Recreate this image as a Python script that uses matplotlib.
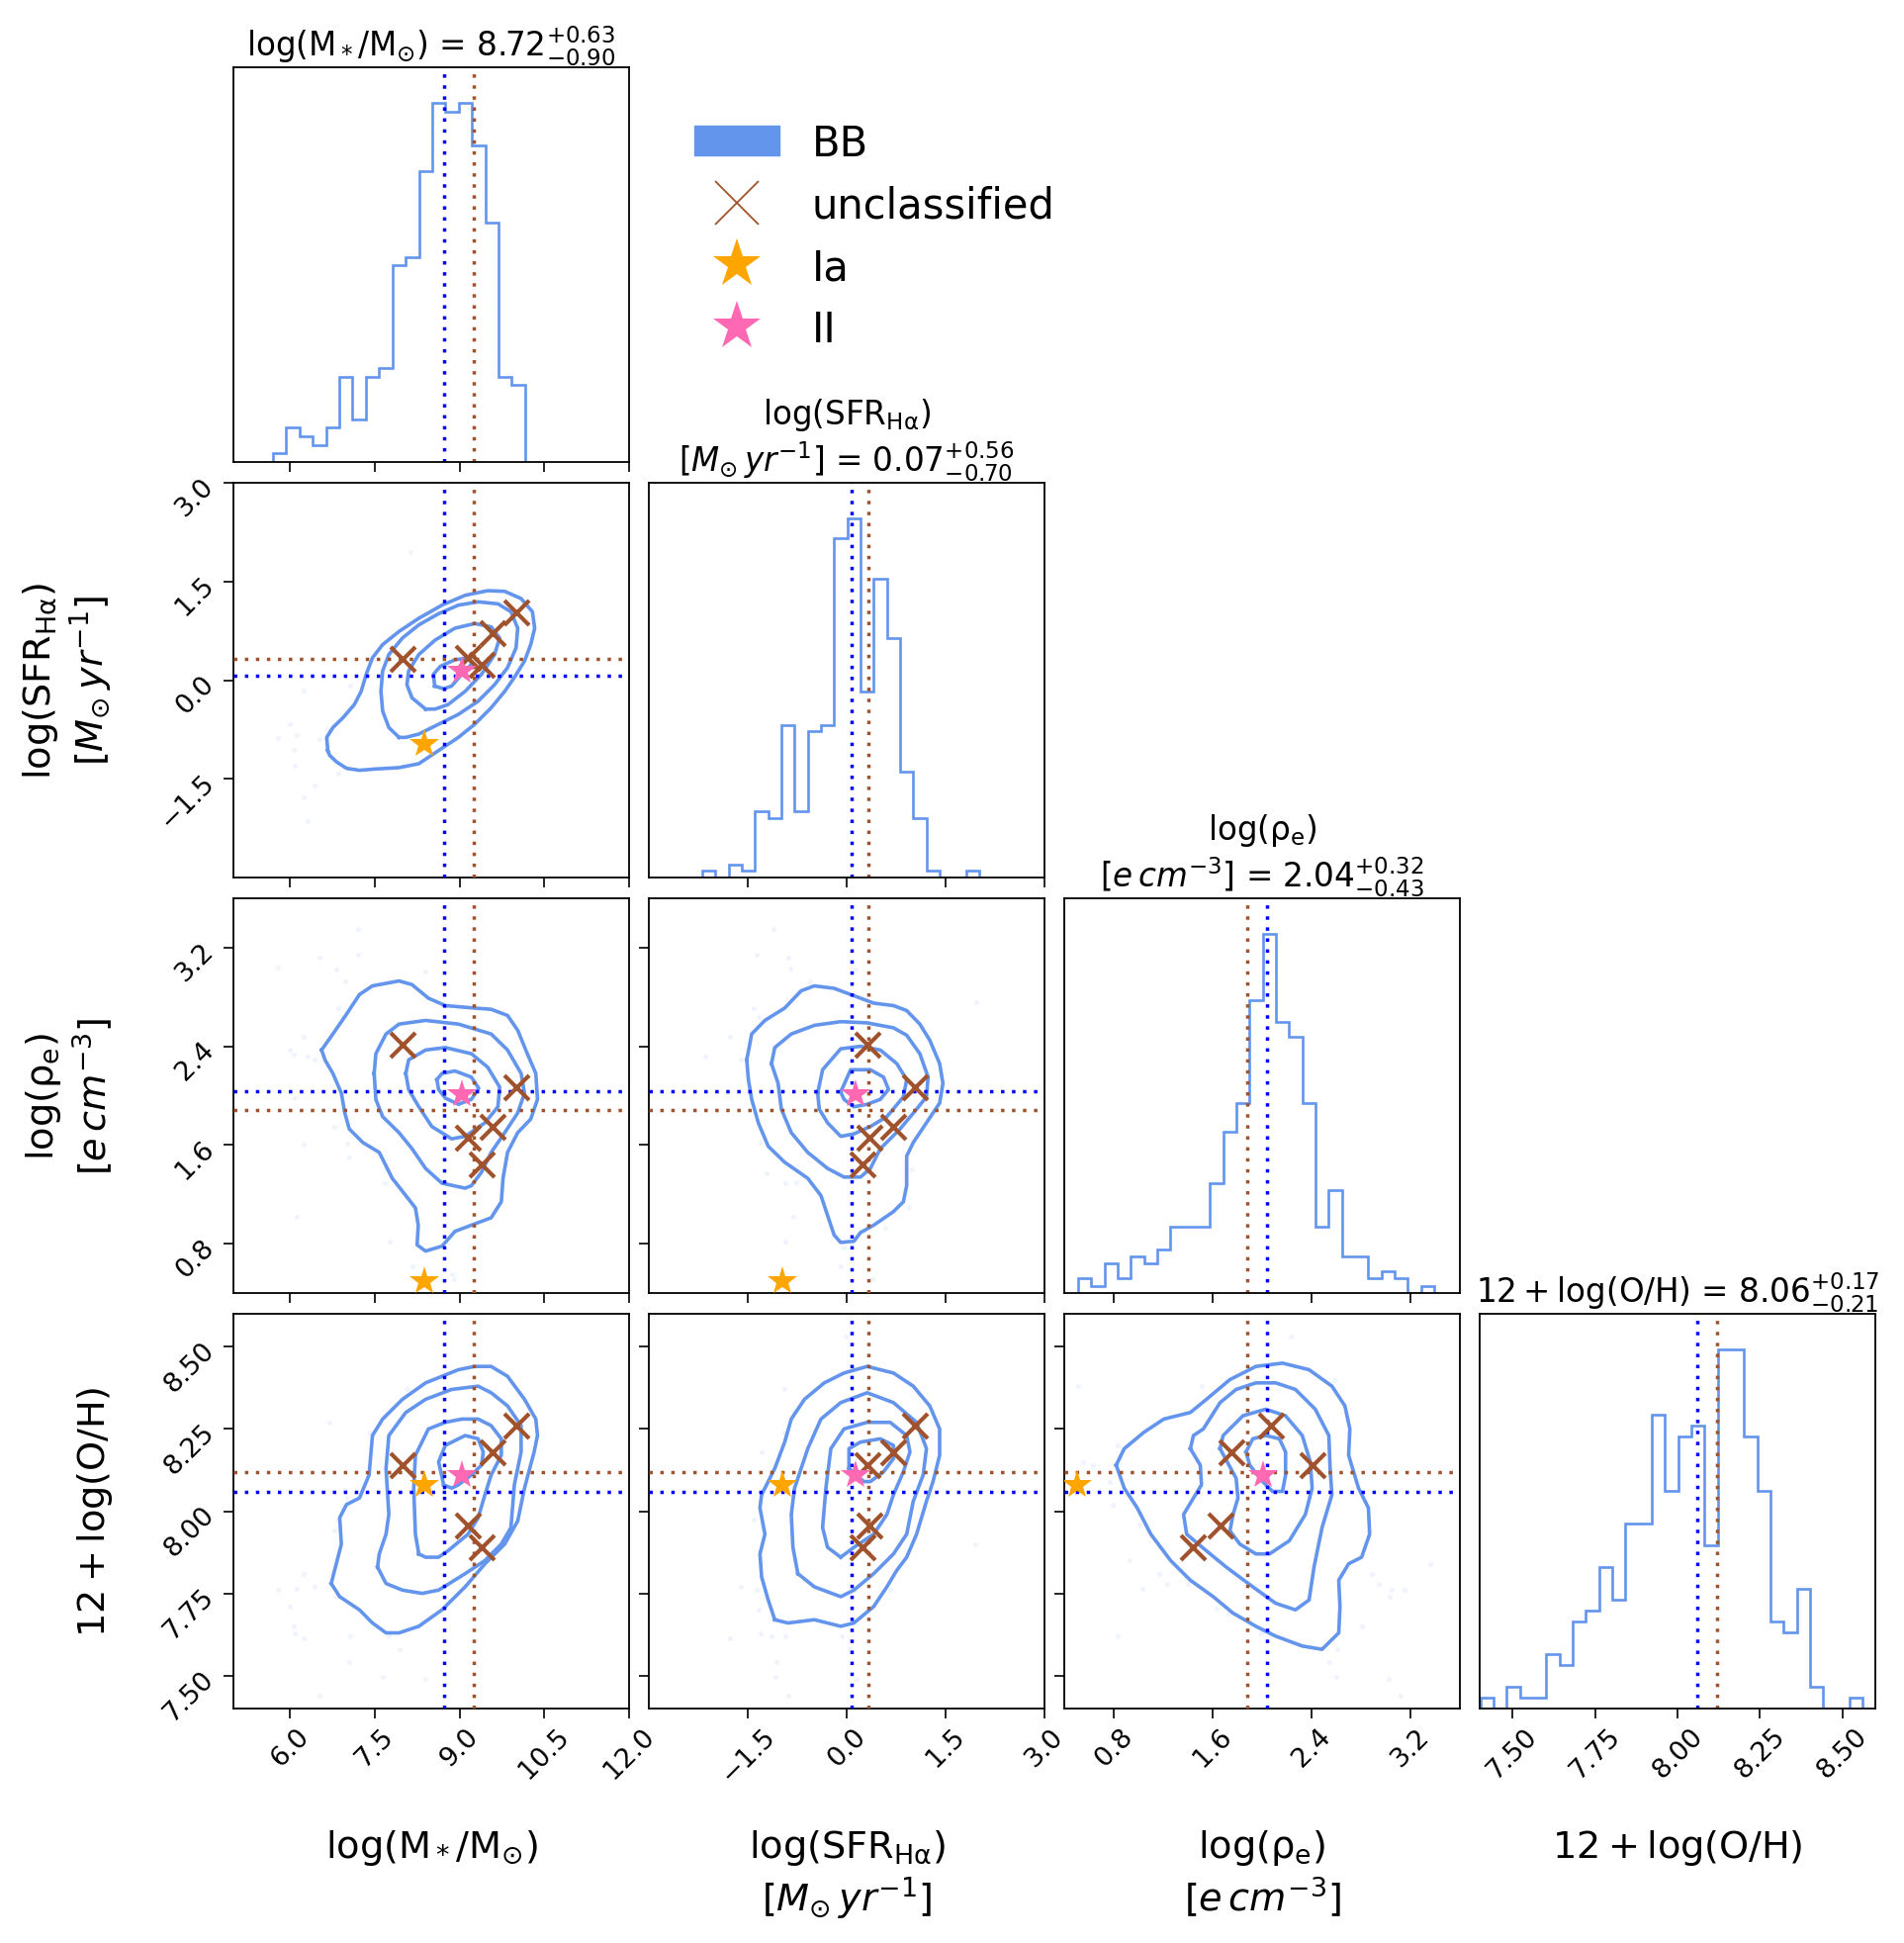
import numpy as np
import matplotlib
matplotlib.use("Agg")
import matplotlib.pyplot as plt
from matplotlib.lines import Line2D
from matplotlib.patches import Patch

plt.rcParams['font.family'] = ['DejaVu Sans']
plt.rcParams['mathtext.fontset'] = 'dejavusans'

# ---------------- data ----------------
labels = [r"$\log(\mathrm{M_*/M_{\odot}})$",
          "$\\log(\\mathrm{SFR_{H\\alpha}})$\n$[M_{\\odot}\\,yr^{-1}]$",
          "$\\log(\\mathrm{\\rho_e})$\n$[e\\,cm^{-3}]$",
          r"$12 + \log(\mathrm{O/H})$"]

ranges = [(5.0, 12.0), (-3.0, 3.0), (0.4, 3.6), (7.4, 8.6)]
ticks = [[6.0, 7.5, 9.0, 10.5, 12.0],
         [-1.5, 0.0, 1.5, 3.0],
         [0.8, 1.6, 2.4, 3.2],
         [7.50, 7.75, 8.00, 8.25, 8.50]]

# BB sample: median and 16/84 errors
bb_median = [8.72, 0.07, 2.04, 8.06]
bb_err_up = [0.63, 0.56, 0.32, 0.17]
bb_err_lo = [0.90, 0.70, 0.43, 0.21]
# SN-host reference values (brown dotted lines)
sn_ref = [9.25, 0.33, 1.88, 8.12]

# histograms (counts per bin, first/last bin edge)
mass_counts = [1, 4, 3, 2, 4, 10, 5, 10, 11, 23, 24, 34, 42, 41, 42, 37, 28, 10, 9]
mass_edges_span = (5.70, 10.16)
sfr_counts = [1, 0, 2, 1, 10, 9, 23, 10, 22, 23, 51, 54, 28, 45, 36, 16, 9, 1, 0, 0, 1]
sfr_edges_span = (-2.19, 2.01)
rho_counts = [2, 1, 4, 2, 5, 4, 6, 9, 9, 9, 15, 22, 26, 40, 49, 37, 35, 26, 9, 14,
              5, 5, 2, 3, 2, 0, 1]
rho_edges_span = (0.512, 3.392)
oh_counts = [1, 0, 2, 1, 1, 5, 4, 8, 9, 13, 10, 17, 17, 27, 20, 25, 26, 15, 33, 33,
             25, 20, 8, 7, 11, 2, 0, 0, 1]
oh_edges_span = (7.402, 8.562)

# supernova hosts
unc_mass = [7.99, 9.14, 9.40, 9.58, 10.01]
unc_sfr = [0.32, 0.34, 0.24, 0.71, 1.03]
unc_rho = [2.41, 1.66, 1.44, 1.75, 2.07]
unc_oh = [8.14, 7.955, 7.89, 8.18, 8.26]
ia_vals = [8.38, -0.97, 0.50, 8.08]
ii_vals = [9.05, 0.14, 2.01, 8.11]

# density contours (0.5,1,1.5,2 sigma)
cont_mass_sfr = [
    [(8.56, -0.09), (8.54, 0.09), (8.66, 0.21), (8.92, 0.31), (9.18, 0.34), (9.21, 0.24),
     (9.04, 0.09), (8.86, -0.09), (8.72, -0.13)],
    [(8.40, -0.44), (8.16, -0.27), (8.07, -0.07), (8.10, 0.14), (8.28, 0.39), (8.57, 0.61),
     (8.92, 0.79), (9.27, 0.86), (9.56, 0.81), (9.71, 0.64), (9.62, 0.39), (9.39, 0.09),
     (9.10, -0.17), (8.80, -0.37), (8.57, -0.44)],
    [(7.93, -0.87), (7.75, -0.72), (7.64, -0.47), (7.61, -0.17), (7.64, 0.14), (7.75, 0.39),
     (7.99, 0.64), (8.28, 0.84), (8.63, 1.01), (8.98, 1.14), (9.33, 1.19), (9.68, 1.16),
     (9.91, 1.04), (10.03, 0.79), (10.00, 0.49), (9.85, 0.19), (9.62, -0.07), (9.33, -0.32),
     (8.98, -0.52), (8.63, -0.67), (8.28, -0.82), (8.05, -0.87)],
    [(6.67, -1.07), (6.65, -0.87), (6.76, -0.72), (6.94, -0.57), (7.14, -0.37), (7.26, -0.17),
     (7.35, 0.09), (7.46, 0.34), (7.64, 0.54), (7.93, 0.74), (8.28, 0.94), (8.69, 1.14),
     (9.10, 1.29), (9.50, 1.36), (9.80, 1.35), (10.09, 1.24), (10.29, 1.04), (10.33, 0.79),
     (10.26, 0.54), (10.15, 0.29), (9.97, 0.04), (9.80, -0.17), (9.56, -0.42), (9.27, -0.67),
     (8.98, -0.87), (8.63, -1.07), (8.28, -1.27), (7.93, -1.33), (7.52, -1.35), (7.23, -1.37),
     (7.00, -1.34), (6.82, -1.24), (6.70, -1.14)],
]
cont_mass_rho = [
    [(8.60, 2.13), (8.69, 2.18), (8.92, 2.20), (9.21, 2.15), (9.34, 2.06), (9.21, 1.97),
     (8.98, 1.93), (8.75, 1.98), (8.63, 2.05)],
    [(8.05, 2.18), (8.10, 2.29), (8.40, 2.37), (8.75, 2.39), (9.21, 2.34), (9.50, 2.23),
     (9.71, 2.07), (9.68, 1.91), (9.45, 1.78), (9.10, 1.67), (8.86, 1.65), (8.51, 1.75),
     (8.28, 1.91), (8.10, 2.05)],
    [(7.49, 2.18), (7.52, 2.34), (7.70, 2.50), (7.93, 2.58), (8.40, 2.61), (8.98, 2.58),
     (9.56, 2.50), (9.85, 2.37), (10.09, 2.18), (10.15, 2.02), (10.03, 1.86), (9.80, 1.70),
     (9.56, 1.54), (9.39, 1.38), (9.21, 1.27), (9.10, 1.25), (8.69, 1.29), (8.40, 1.41),
     (8.16, 1.57), (7.93, 1.70), (7.64, 1.83), (7.52, 1.97)],
    [(6.56, 2.37), (6.76, 2.50), (7.00, 2.66), (7.23, 2.82), (7.46, 2.89), (7.93, 2.93),
     (8.16, 2.90), (8.45, 2.79), (8.75, 2.73), (9.27, 2.71), (9.56, 2.70), (9.85, 2.65),
     (10.03, 2.53), (10.20, 2.34), (10.35, 2.18), (10.38, 1.97), (10.26, 1.81), (10.03, 1.70),
     (9.85, 1.54), (9.77, 1.33), (9.74, 1.14), (9.56, 1.01), (9.21, 0.95), (8.92, 0.90),
     (8.69, 0.78), (8.40, 0.74), (8.25, 0.79), (8.27, 0.95), (8.22, 1.09), (8.05, 1.19),
     (7.81, 1.33), (7.58, 1.54), (7.29, 1.62), (7.05, 1.73), (6.97, 1.86), (6.91, 2.02),
     (6.76, 2.18), (6.62, 2.29)],
]
cont_mass_oh = [
    [(8.72, 8.08), (8.63, 8.15), (8.75, 8.20), (9.10, 8.23), (9.33, 8.22), (9.42, 8.18),
     (9.39, 8.14), (9.21, 8.11), (8.98, 8.08), (8.86, 8.07)],
    [(8.28, 7.87), (8.22, 7.93), (8.19, 8.07), (8.22, 8.17), (8.45, 8.25), (8.75, 8.27),
     (9.04, 8.28), (9.33, 8.28), (9.56, 8.26), (9.74, 8.22), (9.74, 8.17), (9.56, 8.11),
     (9.45, 8.05), (9.33, 7.98), (9.15, 7.93), (8.80, 7.88), (8.63, 7.86), (8.40, 7.86)],
    [(7.55, 7.83), (7.58, 7.87), (7.70, 7.93), (7.75, 7.99), (7.70, 8.13), (7.75, 8.23),
     (8.05, 8.30), (8.40, 8.34), (8.86, 8.37), (9.33, 8.38), (9.56, 8.36), (9.85, 8.32),
     (10.09, 8.26), (10.09, 8.18), (9.97, 8.08), (9.91, 7.95), (9.74, 7.90), (9.45, 7.85),
     (9.10, 7.81), (8.63, 7.76), (8.34, 7.75), (7.99, 7.76), (7.70, 7.78)],
    [(6.73, 7.78), (6.91, 7.90), (6.88, 7.98), (7.00, 8.02), (7.23, 8.04), (7.40, 8.11),
     (7.46, 8.23), (7.64, 8.28), (7.99, 8.34), (8.40, 8.39), (8.98, 8.43), (9.27, 8.44),
     (9.56, 8.44), (9.85, 8.41), (10.15, 8.34), (10.35, 8.28), (10.38, 8.23), (10.32, 8.18),
     (10.15, 8.07), (10.03, 7.97), (9.80, 7.90), (9.45, 7.84), (9.10, 7.77), (8.69, 7.70),
     (8.28, 7.65), (7.93, 7.63), (7.70, 7.63), (7.46, 7.66), (7.23, 7.70), (6.88, 7.74)],
]
cont_sfr_rho = [
    [(-0.09, 2.03), (0.06, 2.21), (0.36, 2.21), (0.56, 2.15), (0.635, 2.05), (0.51, 1.97),
     (0.31, 1.93), (0.11, 1.91), (-0.04, 1.97)],
    [(-0.44, 2.02), (-0.365, 2.21), (-0.09, 2.38), (0.21, 2.40), (0.51, 2.37), (0.76, 2.26),
     (0.91, 2.13), (0.86, 1.99), (0.61, 1.83), (0.36, 1.75), (0.11, 1.69), (-0.09, 1.67),
     (-0.29, 1.78), (-0.415, 1.89)],
    [(-1.14, 2.26), (-1.09, 2.39), (-0.84, 2.50), (-0.49, 2.57), (-0.09, 2.60), (0.31, 2.59),
     (0.71, 2.55), (0.91, 2.49), (1.11, 2.34), (1.235, 2.15), (1.21, 1.99), (1.06, 1.89),
     (0.81, 1.73), (0.51, 1.57), (0.36, 1.41), (0.21, 1.34), (-0.04, 1.34), (-0.29, 1.41),
     (-0.59, 1.54), (-0.84, 1.70), (-0.99, 1.89), (-1.04, 2.10)],
    [(-1.515, 2.29), (-1.44, 2.50), (-1.24, 2.61), (-0.94, 2.71), (-0.69, 2.85), (-0.49, 2.89),
     (-0.19, 2.87), (0.11, 2.81), (0.41, 2.75), (0.71, 2.73), (0.91, 2.69), (1.11, 2.58),
     (1.26, 2.45), (1.41, 2.26), (1.46, 2.10), (1.41, 1.94), (1.21, 1.78), (1.01, 1.62),
     (0.91, 1.51), (0.91, 1.27), (0.86, 1.14), (0.71, 1.06), (0.41, 0.95), (0.21, 0.89),
     (0.11, 0.82), (-0.09, 0.81), (-0.19, 0.87), (-0.29, 1.03), (-0.39, 1.19), (-0.59, 1.33),
     (-0.94, 1.46), (-1.19, 1.59), (-1.34, 1.78), (-1.44, 1.97), (-1.49, 2.13)],
]
cont_sfr_oh = [
    [(0.035, 8.13), (0.035, 8.19), (0.21, 8.21), (0.51, 8.22), (0.71, 8.20), (0.71, 8.16),
     (0.56, 8.12), (0.36, 8.09), (0.26, 8.09)],
    [(-0.09, 7.86), (-0.29, 7.89), (-0.365, 7.95), (-0.315, 8.07), (-0.24, 8.19), (-0.04, 8.25),
     (0.31, 8.27), (0.66, 8.27), (0.91, 8.23), (0.96, 8.18), (0.86, 8.12), (0.71, 8.05),
     (0.61, 7.99), (0.41, 7.93), (0.11, 7.89)],
    [(-0.74, 7.81), (-0.815, 7.89), (-0.84, 7.99), (-0.79, 8.07), (-0.59, 8.19), (-0.39, 8.28),
     (-0.09, 8.33), (0.31, 8.36), (0.71, 8.33), (1.06, 8.27), (1.21, 8.19), (1.16, 8.11),
     (1.01, 8.03), (0.91, 7.93), (0.71, 7.87), (0.41, 7.81), (0.11, 7.76), (-0.09, 7.74),
     (-0.49, 7.77)],
    [(-1.09, 7.67), (-1.19, 7.73), (-1.29, 7.80), (-1.315, 7.87), (-1.24, 7.93), (-1.315, 8.01),
     (-1.29, 8.05), (-1.09, 8.13), (-0.94, 8.21), (-0.84, 8.28), (-0.64, 8.34), (-0.34, 8.39),
     (-0.04, 8.42), (0.31, 8.44), (0.71, 8.42), (1.01, 8.38), (1.26, 8.32), (1.41, 8.25),
     (1.41, 8.17), (1.31, 8.09), (1.21, 8.03), (1.06, 7.93), (0.91, 7.86), (0.76, 7.82),
     (0.61, 7.77), (0.41, 7.71), (0.11, 7.66), (-0.09, 7.65), (-0.49, 7.67), (-0.89, 7.66)],
]
cont_rho_oh = [
    [(1.87, 8.18), (1.925, 8.22), (2.03, 8.23), (2.14, 8.22), (2.19, 8.18), (2.19, 8.11),
     (2.165, 8.06), (2.085, 8.06), (2.005, 8.09), (1.90, 8.14)],
    [(1.66, 8.19), (1.685, 8.23), (1.845, 8.29), (2.03, 8.31), (2.19, 8.29), (2.325, 8.23),
     (2.39, 8.15), (2.405, 8.07), (2.35, 7.99), (2.22, 7.91), (2.06, 7.87), (1.95, 7.87),
     (1.82, 7.90), (1.74, 7.94), (1.765, 7.99), (1.805, 8.04), (1.79, 8.10)],
    [(1.42, 8.19), (1.445, 8.23), (1.525, 8.25), (1.66, 8.33), (1.79, 8.37), (1.95, 8.39),
     (2.11, 8.39), (2.27, 8.37), (2.43, 8.31), (2.54, 8.23), (2.55, 8.13), (2.565, 8.05),
     (2.485, 7.95), (2.42, 7.83), (2.38, 7.73), (2.27, 7.70), (2.11, 7.72), (1.925, 7.77),
     (1.71, 7.83), (1.58, 7.87), (1.39, 7.93), (1.365, 7.99), (1.445, 8.04), (1.51, 8.08),
     (1.50, 8.14)],
    [(0.82, 8.14), (0.885, 8.19), (1.045, 8.24), (1.205, 8.28), (1.42, 8.30), (1.55, 8.34),
     (1.74, 8.40), (1.95, 8.44), (2.165, 8.45), (2.38, 8.43), (2.565, 8.38), (2.67, 8.32),
     (2.71, 8.25), (2.70, 8.17), (2.78, 8.07), (2.86, 8.01), (2.87, 7.93), (2.805, 7.86),
     (2.70, 7.84), (2.62, 7.79), (2.63, 7.71), (2.62, 7.63), (2.485, 7.58), (2.325, 7.59),
     (2.11, 7.62), (1.95, 7.65), (1.765, 7.69), (1.605, 7.74), (1.42, 7.79), (1.26, 7.85),
     (1.10, 7.93), (0.99, 8.01), (0.885, 8.07)],
]

# sparse samples outside the outer contour (faint points)
pts_mass_sfr = [(8.14, 1.945), (6.25, -0.165), (7.07, -0.08), (5.99, -0.665), (6.12, -0.83),
                (5.79, -0.875), (6.07, -1.055), (6.09, -1.305), (6.53, -0.89), (6.67, -0.74),
                (6.85, -1.415), (6.44, -1.605), (6.24, -1.78), (6.31, -2.15)]
pts_mass_rho = [(7.20, 3.35), (6.53, 3.12), (7.20, 3.14), (5.79, 3.04), (6.82, 3.02), (6.98, 2.93),
                (8.40, 3.01), (6.85, 2.71), (6.24, 2.48), (5.99, 2.37), (6.07, 2.33), (6.32, 2.32),
                (6.44, 2.29), (6.09, 1.98), (6.79, 1.75), (6.25, 1.60), (7.01, 1.61), (7.05, 1.50),
                (7.70, 1.40), (7.68, 1.29), (6.12, 1.02), (7.77, 0.82), (8.16, 0.62), (8.86, 0.55),
                (8.90, 0.51)]
pts_mass_oh = [(6.69, 8.27), (7.415, 8.24), (8.075, 8.37), (6.98, 8.065), (7.02, 8.04), (6.85, 7.975),
               (6.79, 7.94), (6.25, 7.81), (5.79, 7.76), (6.12, 7.765), (6.44, 7.77), (6.82, 7.74),
               (5.99, 7.71), (6.07, 7.65), (6.09, 7.63), (6.24, 7.615), (7.07, 7.62), (7.75, 7.62),
               (7.94, 7.58), (7.05, 7.54), (7.65, 7.495), (8.40, 7.49), (6.53, 7.44)]
pts_sfr_rho = [(-1.115, 3.35), (-1.365, 3.14), (-0.88, 3.12), (-0.855, 3.03), (0.135, 3.02),
               (-0.55, 2.93), (-1.405, 2.71), (-1.34, 2.64), (-1.765, 2.48), (-2.14, 2.32),
               (-1.6, 2.29), (1.96, 2.76), (-1.3, 1.62), (-1.215, 1.37), (-0.925, 1.29),
               (-0.76, 1.30), (0.985, 1.40), (-0.815, 1.02), (0.95, 1.10), (-0.925, 0.82),
               (-0.09, 0.62), (0.585, 0.93), (0.385, 0.51), (-0.04, 0.77)]
pts_sfr_oh = [(-0.015, 8.53), (-0.94, 8.37), (-0.79, 8.305), (-0.94, 8.24), (-1.29, 8.18),
              (-1.405, 7.975), (1.95, 7.90), (-1.6, 7.77), (-1.365, 7.76), (-1.33, 7.70),
              (-1.3, 7.63), (-1.14, 7.62), (-0.925, 7.62), (-1.765, 7.615), (-0.075, 7.62),
              (0.04, 7.58), (-1.065, 7.54), (-1.075, 7.495), (0.145, 7.49), (-0.885, 7.44),
              (0.66, 7.76)]
pts_rho_oh = [(0.51, 8.38), (0.55, 8.15), (0.63, 8.14), (0.77, 8.09), (0.83, 8.20), (1.51, 8.38),
              (2.23, 8.53), (2.58, 8.40), (0.79, 8.02), (1.01, 7.96), (0.93, 7.85), (1.03, 7.765),
              (1.17, 7.81), (1.23, 7.78), (1.40, 7.78), (1.63, 7.705), (1.725, 7.69), (1.99, 7.63),
              (0.83, 7.62), (2.81, 7.65), (2.89, 7.81), (2.94, 7.78), (3.03, 7.74), (3.05, 7.76),
              (3.15, 7.76), (3.36, 7.84), (2.61, 7.58), (2.54, 7.54), (2.60, 7.495), (3.02, 7.49),
              (3.12, 7.44)]

# ---------------- styling ----------------
C_BB = '#6495ED'
C_UNC = '#A0522D'
C_IA = '#FFA500'
C_II = '#FF69B4'
C_MED = '#0000FF'

FS_TICK = 19.5
FS_LABEL = 27.5
FS_TITLE = 23.5
FS_LEG = 30

fig = plt.figure(figsize=(19.25, 19.65), dpi=100)
W, H = 1925.0, 1965.0
col_left = [236, 656, 1076, 1496]
row_bottom = [468, 888, 1308, 1728]
aw, ah = 400, 399

hist_counts = [mass_counts, sfr_counts, rho_counts, oh_counts]
hist_span = [mass_edges_span, sfr_edges_span, rho_edges_span, oh_edges_span]
unc_vals = [unc_mass, unc_sfr, unc_rho, unc_oh]
contours = {(1, 0): cont_mass_sfr, (2, 0): cont_mass_rho, (3, 0): cont_mass_oh,
            (2, 1): cont_sfr_rho, (3, 1): cont_sfr_oh, (3, 2): cont_rho_oh}
points = {(1, 0): pts_mass_sfr, (2, 0): pts_mass_rho, (3, 0): pts_mass_oh,
          (2, 1): pts_sfr_rho, (3, 1): pts_sfr_oh, (3, 2): pts_rho_oh}
dot_style = dict(color=C_MED, lw=2.5, ls=(0, (1, 2.2)))
dot_style_sn = dict(color=C_UNC, lw=2.5, ls=(0, (1, 2.2)))

for r in range(4):
    for c in range(r + 1):
        ax = fig.add_axes([col_left[c] / W, (H - row_bottom[r]) / H, aw / W, ah / H])
        for s in ax.spines.values():
            s.set_linewidth(1.3)
        ax.set_xlim(ranges[c])
        ax.set_xticks(ticks[c])
        if r == c:
            cnt = hist_counts[c]
            edges = np.linspace(hist_span[c][0], hist_span[c][1], len(cnt) + 1)
            ax.stairs(cnt, edges, color=C_BB, lw=1.9, baseline=0)
            ax.set_ylim(0, 1.1 * max(cnt))
            ax.set_yticks([])
            ax.axvline(sn_ref[c], **dot_style_sn)
            ax.axvline(bb_median[c], **dot_style)
            t = "{} = ${:.2f}^{{+{:.2f}}}_{{-{:.2f}}}$".format(
                labels[c], bb_median[c], bb_err_up[c], bb_err_lo[c])
            ax.set_title(t, fontsize=FS_TITLE, pad=5)
        else:
            ax.set_ylim(ranges[r])
            ax.set_yticks(ticks[r])
            pts = points[(r, c)]
            ax.plot([p[0] for p in pts], [p[1] for p in pts], 'o', color=C_BB,
                    alpha=0.1, ms=3.8, mew=0, zorder=1)
            for cont in contours[(r, c)]:
                xs = [p[0] for p in cont] + [cont[0][0]]
                ys = [p[1] for p in cont] + [cont[0][1]]
                ax.plot(xs, ys, color=C_BB, lw=2.6, solid_joinstyle='round', zorder=2)
            ax.axvline(sn_ref[c], zorder=3, **dot_style_sn)
            ax.axvline(bb_median[c], zorder=3, **dot_style)
            ax.axhline(sn_ref[r], zorder=3, **dot_style_sn)
            ax.axhline(bb_median[r], zorder=3, **dot_style)
            ax.plot(unc_vals[c], unc_vals[r], 'x', color=C_UNC, ms=18, mew=3, zorder=4)
            ax.plot([ia_vals[c]], [ia_vals[r]], '*', color=C_IA, ms=22, mew=0, zorder=5)
            ax.plot([ii_vals[c]], [ii_vals[r]], '*', color=C_II, ms=22, mew=0, zorder=5)
        ax.tick_params(direction='out', length=7, width=1.2, labelsize=FS_TICK)
        if r < 3:
            ax.tick_params(axis='x', labelbottom=False)
        else:
            ax.tick_params(axis='x', labelrotation=45)
            ax.set_xlabel(labels[c], fontsize=FS_LABEL)
            ax.xaxis.set_label_coords(0.5, -0.3)
        if c > 0 or r == c:
            ax.tick_params(axis='y', labelleft=False)
        else:
            ax.tick_params(axis='y', labelrotation=45)
            ax.set_ylabel(labels[r], fontsize=FS_LABEL)
            ax.yaxis.set_label_coords(-0.3, 0.5)

handles = [Patch(facecolor=C_BB, edgecolor=C_BB),
           Line2D([], [], ls='none', marker='x', color=C_UNC, ms=31, mew=1.3),
           Line2D([], [], ls='none', marker='*', color=C_IA, ms=37, mew=0),
           Line2D([], [], ls='none', marker='*', color=C_II, ms=37, mew=0)]
fig.legend(handles, ['BB', 'unclassified', 'Ia', 'II'], loc='upper left',
           bbox_to_anchor=(685 / W, (H - 108) / H), frameon=False, fontsize=FS_LEG,
           handlelength=2.08, handleheight=0.75, handletextpad=0.77, labelspacing=0.5,
           borderaxespad=0)

fig.savefig('out.png', dpi=100)
